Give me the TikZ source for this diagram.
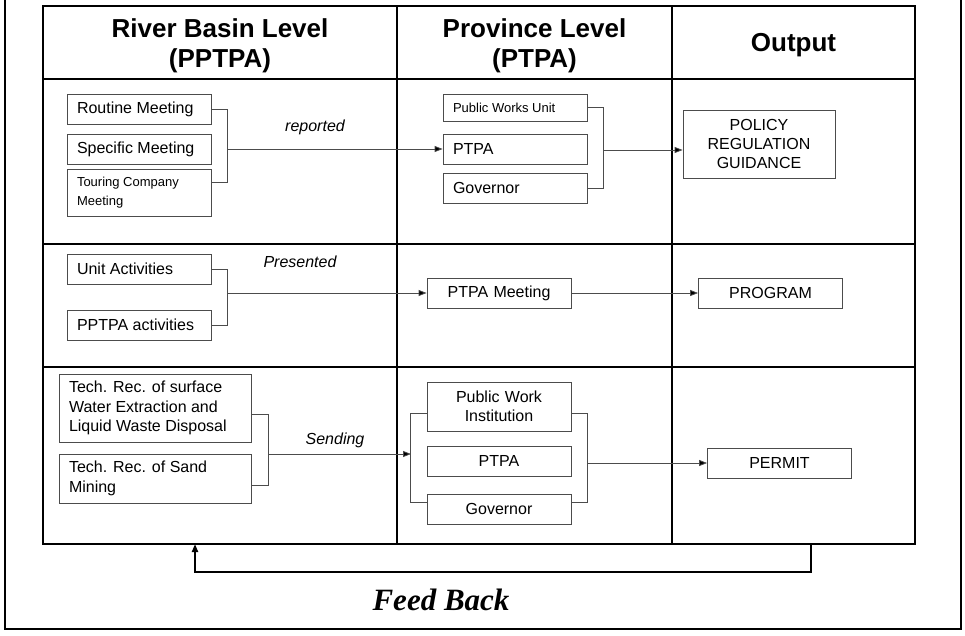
\documentclass[tikz,border=0pt]{standalone}
\usepackage{fontspec}
\setmainfont{Liberation Sans}
\newfontfamily\timesfont{Liberation Serif}
\usetikzlibrary{arrows.meta}

\tikzset{
  box/.style={draw=black!70, line width=0.8pt, inner xsep=10pt, inner ysep=0pt,
    minimum height=30pt, font=\fontsize{16}{19.5}\selectfont},
  lbox/.style={box, text width=124pt, align=flush left},
  cbox/.style={box, text width=124pt, align=center},
  small/.style={font=\fontsize{13}{19}\selectfont},
  head/.style={font=\fontsize{26}{30}\selectfont\bfseries, align=center},
  lab/.style={font=\fontsize{16}{19}\selectfont\itshape},
  con/.style={draw=black!70, line width=0.8pt},
  arr/.style={con, -{Triangle[length=8pt,width=6pt,fill=black]}},
}

\begin{document}
\begin{tikzpicture}[x=1pt,y=-1pt]
 \useasboundingbox (0,0) rectangle (965,635);
 % Rahmen und Tabelle
 \draw[line width=2.5pt] (5,-10) -- (5,629) -- (961,629) -- (961,-10);
 \draw[line width=1.5pt] (43,6) rectangle (915,544);
 \draw[line width=1.5pt] (43,79) -- (915,79) (43,244) -- (915,244) (43,367) -- (915,367);
 \draw[line width=1.5pt] (397,6) -- (397,544) (672,6) -- (672,544);

 \node[head] (hleft) at (220,46) {River Basin Level\\(PPTPA)};
 \node[head] (hmid) at (534.5,46) {Province Level\\(PTPA)};
 \node[head] (hout) at (793.5,45) {Output};

 % erste Zeile
 \node[lbox] (routine) at (139,109) {Routine Meeting};
 \node[lbox] (specific) at (139,149) {Specific Meeting};
 \node[lbox, small, minimum height=47pt] (touring) at (139,192.5) {Touring Company\\Meeting};
 \node[lbox, small, minimum height=27pt] (pwunit) at (515,107.5) {Public Works Unit};
 \node[lbox] (ptpaA) at (515,149) {PTPA};
 \node[lbox] (govA) at (515,188) {Governor};
 \node[box, text width=132pt, align=center, minimum height=68pt, font=\fontsize{16}{18.7}\selectfont] (policy) at (759,144) {POLICY\\REGULATION\\GUIDANCE};
 \node[lab] (reported) at (315,127) {reported};

 \draw[con] (routine.east) -- ++(16,0) |- ([yshift=10pt]touring.east);
 \coordinate (brA) at (227,149);
 \draw[arr] (brA) -- (ptpaA.west);
 \draw[con] (pwunit.east) -- ++(16,0) |- (govA.east);
 \coordinate (brB) at (603,150);
 \draw[arr] (brB) -- (brB -| policy.west);

 % zweite Zeile
 \node[lbox] (unitact) at (139,269) {Unit Activities};
 \node[lbox] (pptpaact) at (139,325) {PPTPA activities};
 \node[cbox] (meeting) at (499,293) {PTPA Meeting};
 \node[cbox] (program) at (770.5,293) {PROGRAM};
 \node[lab] (presented) at (300,262) {Presented};

 \draw[con] (unitact.east) -- ++(16,0) |- (pptpaact.east);
 \coordinate (brC) at (227,293);
 \draw[arr] (brC) -- (meeting.west);
 \draw[arr] (meeting.east) -- (program.west);

 % dritte Zeile
 \node[box, text width=172pt, align=flush left, minimum height=68pt] (techA) at (155,408) {Tech. Rec. of surface\\Water Extraction and\\Liquid Waste Disposal};
 \node[box, text width=172pt, align=flush left, minimum height=49pt] (techB) at (155,478.5) {Tech. Rec. of Sand\\Mining};
 \node[cbox, minimum height=49pt, font=\fontsize{16}{19}\selectfont] (pwinst) at (499,406.5) {Public Work\\Institution};
 \node[cbox] (ptpaB) at (499,461) {PTPA};
 \node[cbox] (govB) at (499,509) {Governor};
 \node[cbox] (permit) at (779.5,463) {PERMIT};
 \node[lab] (sending) at (335,440) {Sending};

 \draw[con] ([yshift=-6pt]techA.east) -- ++(17,0) |- ([yshift=-7pt]techB.east);
 \coordinate (brE) at (268,454);
 \coordinate (brF) at (411,454);
 \draw[arr] (brE) -- (brF);
 \draw[con] ([yshift=-6.5pt]pwinst.west) -- ++(-16,0) |- ([yshift=7pt]govB.west);
 \draw[con] ([yshift=-6.5pt]pwinst.east) -- ++(16,0) |- ([yshift=7pt]govB.east);
 \coordinate (brG) at (587,463);
 \draw[arr] (brG) -- (permit.west);

 % Rueckkopplung
 \coordinate (fbA) at (811,544);
 \coordinate (fbB) at (195,544);
 \draw[line width=2.5pt, -{Triangle[length=8pt,width=6pt]}] (fbA) -- ++(0,28) -| (fbB);
 \node[anchor=base, font=\timesfont\fontsize{31}{34}\selectfont\bfseries\itshape] (feedback) at (441,610) {Feed Back};
\end{tikzpicture}
\end{document}
